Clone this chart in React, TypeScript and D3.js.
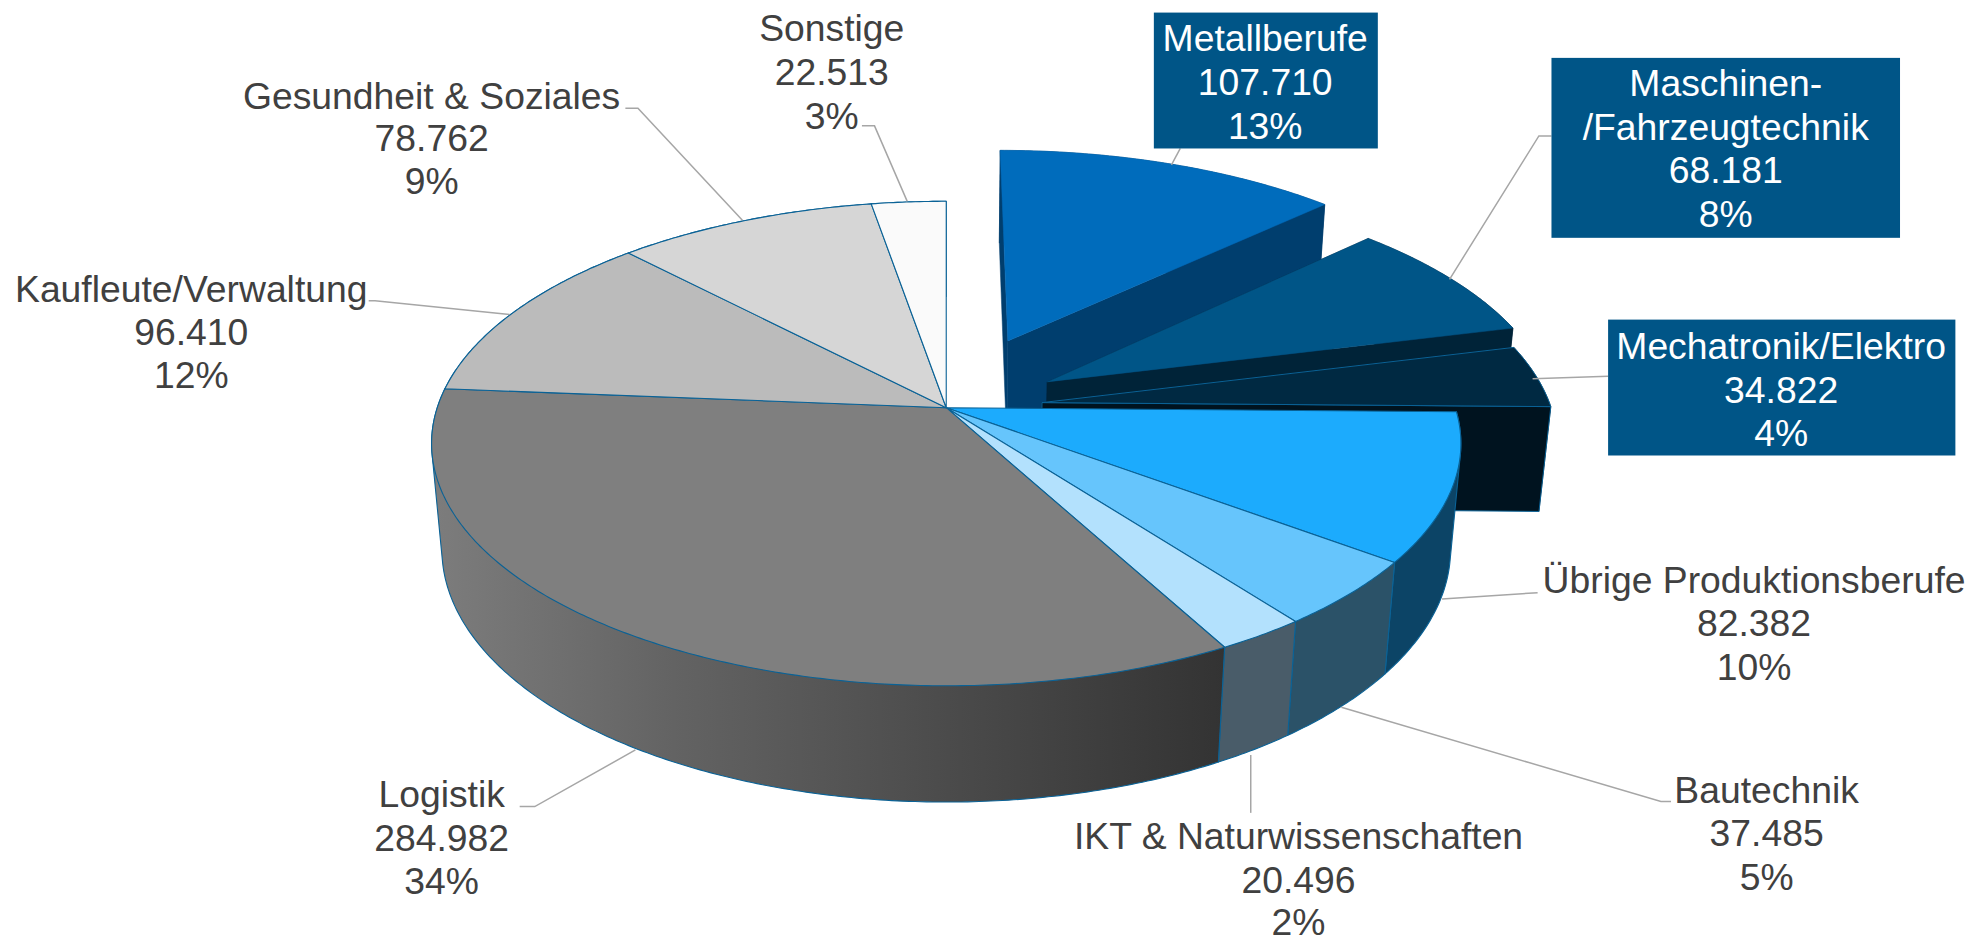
import React from "react";
import * as d3 from "d3";

const categories = ["Metallberufe", "Maschinen-\n/Fahrzeugtechnik", "Mechatronik/Elektro", "Übrige Produktionsberufe", "Bautechnik", "IKT & Naturwissenschaften", "Logistik", "Kaufleute/Verwaltung", "Gesundheit & Soziales", "Sonstige"];
const values = [107710, 68181, 34822, 82382, 37485, 20496, 284982, 96410, 78762, 22513];
const percents = [13, 8, 4, 10, 5, 2, 34, 12, 9, 3];
const topColors = ["#006CBC", "#005587", "#002942", "#1CABFD", "#66C5FC", "#B3E1FD", "#7F7F7F", "#BBBBBB", "#D6D6D6", "#FAFAFA"];
const wallColors = ["#003E6E", "#002338", "#00131F", "#0C4466", "#2B5268", "#495C69", "url(#logistikWall)", "#777777", "#888888", "#999999"];
const explosions = [0.32, 0.23, 0.19, 0, 0, 0, 0, 0, 0, 0];

// layout, in page pixels
const W = 1973, H = 938;
const S = 1973 / 1568;
const CX = 752 * S, CY = 324 * S;
const R = 404.5 * S, RC = 188.3 * S, DEPTH = 85 * S;
const K = 0.148, M = 0.02;
const FONT = 37.3;
const LINE_STROKE = "#A6A6A6";
const EDGE = "#0A6296";

type Lbl = { x: number; y: number[]; box?: [number, number, number, number]; line: [number, number][] };
const labelLayout: Lbl[] = [
  { x: 1005.5, y: [30, 65, 100], box: [917, 10, 1095, 118], line: [[931, 131], [938, 118]] },
  { x: 1371.5, y: [66, 101, 135, 170], box: [1233, 46, 1510, 189], line: [[1152, 222], [1223, 108], [1233, 108]] },
  { x: 1415.5, y: [275, 310, 344], box: [1278, 254, 1554, 362], line: [[1218, 301], [1278, 299]] },
  { x: 1394, y: [461, 495, 530], line: [[1146, 476], [1222, 471]] },
  { x: 1404, y: [628, 662, 697], line: [[1066, 562], [1320, 637], [1328, 637]] },
  { x: 1032, y: [664, 699, 733], line: [[994, 600], [994, 646]] },
  { x: 351, y: [631, 666, 700], line: [[505, 596], [425, 641], [413, 641]] },
  { x: 152, y: [230, 264, 298], line: [[405, 250], [298, 239], [293, 239]] },
  { x: 343, y: [76, 110, 144], line: [[590, 175], [507, 86], [497, 86]] },
  { x: 661, y: [22, 57, 92], line: [[721, 160], [695, 100], [685, 100]] },
];

const fmt = d3.formatLocale({ decimal: ",", thousands: ".", grouping: [3], currency: ["", ""] }).format(",d");

// 3D disc point -> screen: X right, Y towards the viewer, Z down
function project(X: number, Y: number, Z: number): [number, number] {
  const d = 1 - K * Y + M * Z;
  return [CX + (R * X) / d, CY + (RC * Y + DEPTH * Z) / d];
}

const arcs = d3.pie<number>().sort(null).startAngle(0).endAngle(2 * Math.PI)(values);
const toPath = d3.line<[number, number]>().x((d) => d[0]).y((d) => d[1]);

function rim(a0: number, a1: number, ox: number, oy: number, z: number) {
  const n = Math.max(2, Math.ceil((a1 - a0) / 0.01));
  return d3.range(n + 1).map((i) => {
    const a = a0 + ((a1 - a0) * i) / n;
    return project(ox + Math.sin(a), oy - Math.cos(a), z);
  });
}

const slices = arcs.map((a, i) => {
  const bis = (a.startAngle + a.endAngle) / 2;
  const ox = explosions[i] * Math.sin(bis), oy = -explosions[i] * Math.cos(bis);
  const apexT = project(ox, oy, 0), apexB = project(ox, oy, 1);
  const top = toPath([apexT, ...rim(a.startAngle, a.endAngle, ox, oy, 0)]) + "Z";
  // the wall's outline is the hull of its two rims, so the silhouette runs straight between them
  const hull = d3.polygonHull([...rim(a.startAngle, a.endAngle, ox, oy, 0), ...rim(a.startAngle, a.endAngle, ox, oy, 1)]) as [number, number][];
  const wall = toPath(hull) + "Z";
  const edge = (ang: number) =>
    toPath([apexT, project(ox + Math.sin(ang), oy - Math.cos(ang), 0), project(ox + Math.sin(ang), oy - Math.cos(ang), 1), apexB]) + "Z";
  return { i, top, wall, startFace: edge(a.startAngle), endFace: edge(a.endAngle), exploded: explosions[i] > 0 };
});

const faceProps = { strokeWidth: 1.1, stroke: EDGE, strokeLinejoin: "round" as const };

export default function App() {
  return (
    <svg width={W} height={H} viewBox={`0 0 ${W} ${H}`} style={{ position: "absolute", left: 0, top: 0, display: "block" }}>
      <defs>
        <linearGradient id="logistikWall" gradientUnits="userSpaceOnUse" x1={CX - R} x2={1225} y1={0} y2={0}>
          <stop offset="0" stopColor="#7C7C7C" />
          <stop offset="0.3" stopColor="#636363" />
          <stop offset="0.62" stopColor="#4D4D4D" />
          <stop offset="1" stopColor="#333333" />
        </linearGradient>
      </defs>
      <rect width={W} height={H} fill="#FFFFFF" />

      {/* exploded slices, back to front */}
      {slices.filter((s) => s.exploded).map((s) => (
        <g key={s.i}>
          <path d={s.wall} fill={wallColors[s.i]} stroke={wallColors[s.i]} strokeWidth={0.5} />
          <path d={s.startFace} fill={wallColors[s.i]} stroke={wallColors[s.i]} strokeWidth={0.5} />
          <path d={s.endFace} fill={wallColors[s.i]} stroke={s.i === 2 ? EDGE : wallColors[s.i]} strokeWidth={s.i === 2 ? 1 : 0.5} />
          <path d={s.top} fill={topColors[s.i]} stroke={s.i === 2 ? EDGE : topColors[s.i]} strokeWidth={s.i === 2 ? 1 : 0.5} />
        </g>
      ))}

      {/* main body */}
      {slices.filter((s) => !s.exploded).map((s) => (
        <path key={s.i} d={s.wall} fill={wallColors[s.i]} {...faceProps} />
      ))}
      {slices.filter((s) => !s.exploded).map((s) => (
        <path key={s.i} d={s.top} fill={topColors[s.i]} {...faceProps} />
      ))}

      {/* leaders */}
      {labelLayout.map((l, i) => (
        <path key={i} d={toPath(l.line.map(([x, y]) => [x * S, y * S] as [number, number])) as string} fill="none" stroke={LINE_STROKE} strokeWidth={1.5} />
      ))}

      {/* labels */}
      {labelLayout.map((l, i) => {
        const lines = [...categories[i].split("\n"), fmt(values[i]), `${percents[i]}%`];
        return (
          <g key={i}>
            {l.box && (
              <rect x={l.box[0] * S} y={l.box[1] * S} width={(l.box[2] - l.box[0]) * S} height={(l.box[3] - l.box[1]) * S} fill="#005587" />
            )}
            {lines.map((t, j) => (
              <text key={j} x={l.x * S} y={l.y[j] * S + 13} textAnchor="middle" fontFamily="'Liberation Sans', Arial, sans-serif" fontSize={FONT} fill={l.box ? "#FFFFFF" : "#404040"}>
                {t}
              </text>
            ))}
          </g>
        );
      })}
    </svg>
  );
}
